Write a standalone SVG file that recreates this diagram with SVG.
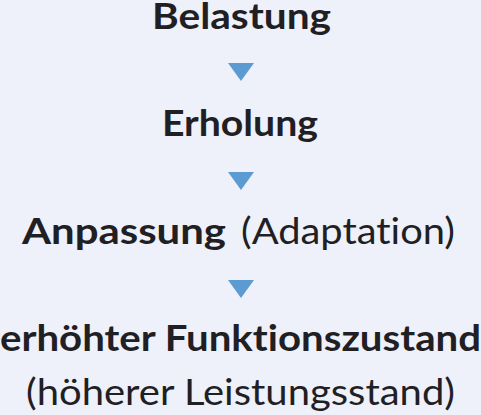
<svg xmlns="http://www.w3.org/2000/svg" width="481" height="415" viewBox="0 0 481 415">
<style>
.t{font-family:"Lato","Noto Sans","DejaVu Sans",sans-serif;font-size:37px;fill:#1f1f24;font-variant-ligatures:none;font-feature-settings:"liga" 0,"dlig" 0}
.b{font-weight:700}
.r{font-weight:400}
.arr{fill:#5b9bd2}
</style>
<rect x="0" y="0" width="481" height="415" fill="#eef0fa"/>
<g id="node-belastung">
<text class="t b" x="152" y="29" textLength="179" lengthAdjust="spacingAndGlyphs">Belastung</text>
</g>
<g id="node-erholung">
<text class="t b" x="162" y="136" textLength="156" lengthAdjust="spacingAndGlyphs">Erholung</text>
</g>
<g id="node-anpassung">
<text class="t b" x="22" y="244" textLength="204" lengthAdjust="spacingAndGlyphs">Anpassung</text>
<text class="t r" x="241" y="244" textLength="214" lengthAdjust="spacingAndGlyphs">(Adaptation)</text>
</g>
<g id="node-funktionszustand">
<text class="t b" x="0" y="351" textLength="481" lengthAdjust="spacingAndGlyphs">erhöhter Funktionszustand</text>
<text class="t r" x="26" y="405" textLength="429" lengthAdjust="spacingAndGlyphs">(höherer Leistungsstand)</text>
</g>
<g id="connectors">
<polygon class="arr" points="228,63 254,63 241,81"/>
<polygon class="arr" points="228,172 254,172 241,190"/>
<polygon class="arr" points="228,280 254,280 241,298"/>
</g>
</svg>
